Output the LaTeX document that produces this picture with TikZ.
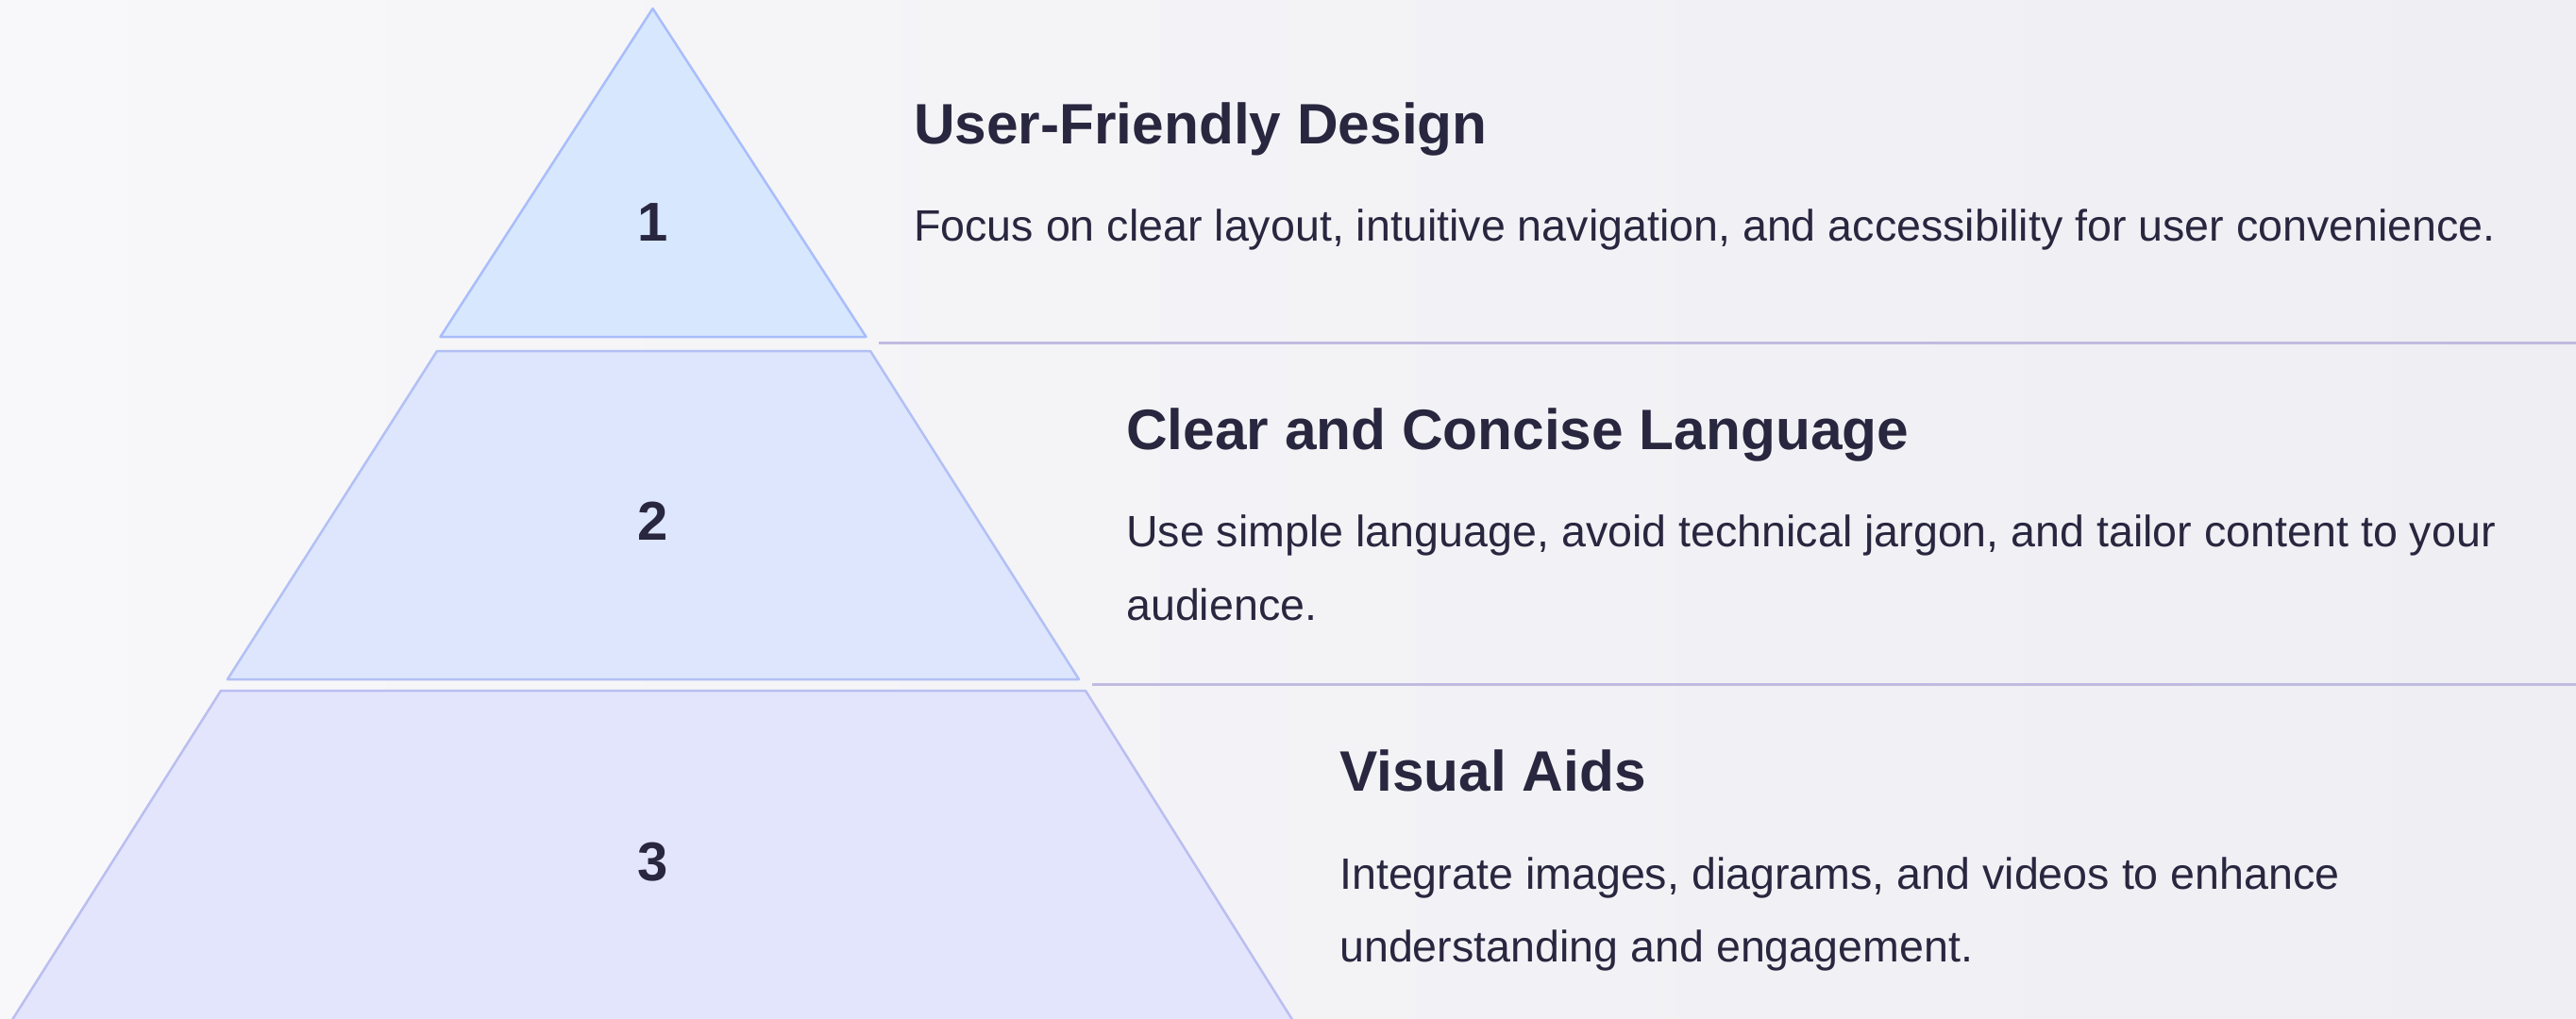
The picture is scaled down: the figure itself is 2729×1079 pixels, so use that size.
\documentclass[tikz,border=0pt]{standalone}
\usepackage{fontspec}
\setmainfont{Liberation Sans}
\definecolor{txt}{HTML}{29263F}
\definecolor{bgl}{HTML}{F8F8FA}
\definecolor{bgr}{HTML}{EEEEF3}
\definecolor{fa}{HTML}{D7E7FE}
\definecolor{sa}{HTML}{A9BDFB}
\definecolor{fb}{HTML}{DDE6FD}
\definecolor{sb}{HTML}{B2C0F5}
\definecolor{fc}{HTML}{E3E5FD}
\definecolor{sc}{HTML}{BABEF0}
\definecolor{sep}{HTML}{C0BBE0}
\tikzset{
  tier/.style={line width=2.5pt, line join=round},
  num/.style={anchor=base, inner sep=0pt, text=txt, font=\fontsize{58}{60}\selectfont\bfseries},
  ttl/.style={anchor=base west, inner sep=0pt, text=txt, font=\fontsize{60.4}{64}\selectfont\bfseries},
  body/.style={anchor=base west, inner sep=0pt, text=txt, font=\fontsize{46.6}{50}\selectfont},
  sepline/.style={draw=sep, line width=3pt}
}
\begin{document}
\begin{tikzpicture}[x=1pt,y=-1pt]
\useasboundingbox (0,0) rectangle (2729,1079);
\clip (0,0) rectangle (2729,1079);
\shade[left color=bgl, right color=bgr] (0,0) rectangle (2729,1079);
% tiers
\draw[tier, fill=fa, draw=sa] (691.5,9) -- (917.5,357) -- (466.5,357) -- cycle;
\draw[tier, fill=fb, draw=sb] (463,372) -- (922,372) -- (1143,720) -- (241,720) -- cycle;
\draw[tier, fill=fc, draw=sc] (234,732) -- (1150,732) -- (1378,1095) -- (4,1095) -- cycle;
% numbers
\node[num] (n1) at (692,255) {1};
\node[num] (n2) at (692,572) {2};
\node[num] (n3) at (692,933) {3};
% separators
\coordinate (s1a) at (931,363);
\coordinate (s1b) at (2729,363);
\coordinate (s2a) at (1157,725);
\coordinate (s2b) at (2729,725);
\draw[sepline] (s1a) -- (s1b);
\draw[sepline] (s2a) -- (s2b);
% texts
\node[ttl] (t1) at (968,152) {User-Friendly Design};
\node[body] (b1) at (968,255) {Focus on clear layout, intuitive navigation, and accessibility for user convenience.};
\node[ttl] (t2) at (1193,476) {Clear and Concise Language};
\node[body] (b2a) at (1193,579) {Use simple language, avoid technical jargon, and tailor content to your};
\node[body] (b2b) at (1193,657) {audience.};
\node[ttl] (t3) at (1419,838) {Visual Aids};
\node[body] (b3a) at (1419,942) {Integrate images, diagrams, and videos to enhance};
\node[body] (b3b) at (1419,1019) {understanding and engagement.};
\end{tikzpicture}
\end{document}
